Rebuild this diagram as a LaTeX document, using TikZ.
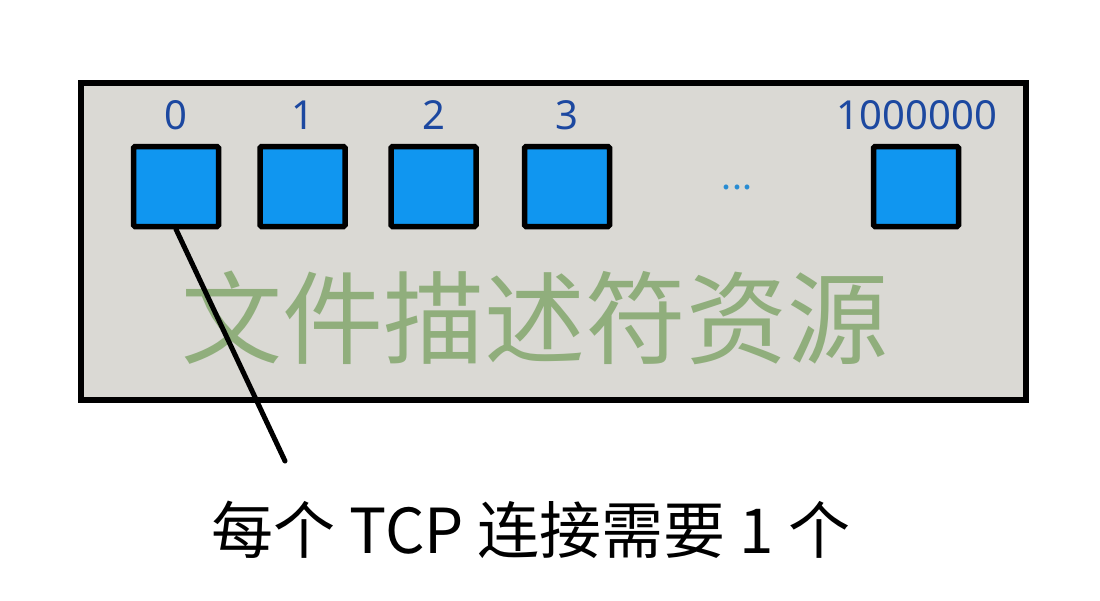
\documentclass[tikz,border=0pt]{standalone}
\usepackage{fontspec}
\newfontfamily\cjk{Noto Sans CJK SC}
\newfontfamily\lbl{Noto Sans}
\definecolor{bggray}{RGB}{218,217,212}
\definecolor{cellblue}{RGB}{16,150,240}
\definecolor{lblblue}{RGB}{28,72,160}
\definecolor{dotblue}{RGB}{40,140,210}
\definecolor{titlegreen}{RGB}{144,174,124}
\tikzset{
  cell/.style={draw=black, line width=5.5pt, fill=cellblue, rounded corners=1.5pt,
    minimum width=85pt, minimum height=80pt, inner sep=0pt},
  idx/.style={font=\lbl\fontsize{40}{40}\selectfont, text=lblblue, inner sep=0pt, anchor=base},
  panel/.style={draw=black, line width=6pt, fill=bggray},
  link/.style={draw=black, line width=5pt, line cap=round}
}
\begin{document}
\begin{tikzpicture}[x=1pt,y=-1pt]
\useasboundingbox (0,0) rectangle (1100,600);
\fill[white] (0,0) rectangle (1100,600);
\draw[panel] (81,83) rectangle (1026,400);
\node[cell] (c0) at (176,186.5) {};
\node[cell] (c1) at (302.5,186.5) {};
\node[cell] (c2) at (433.5,186.5) {};
\node[cell] (c3) at (567,186.5) {};
\node[cell] (cn) at (916,186.5) {};
\node[idx] (l0) at (176,129) {0};
\node[idx] (l1) at (302.5,129) {1};
\node[idx] (l2) at (433.5,129) {2};
\node[idx] (l3) at (567,129) {3};
\node[idx] (ln) at (917,129) {1000000};
\node[font=\cjk\fontsize{36}{36}\selectfont, text=dotblue, inner sep=0pt] (dots) at (737,187) {...};
\node[font=\cjk\fontsize{101}{101}\selectfont, text=titlegreen, inner sep=0pt] (title) at (535,318) {文件描述符资源};
\coordinate (lend) at (285,461);
\draw[link] (c0.south) -- (lend);
\node[font=\cjk\fontsize{62}{62}\selectfont, text=black, inner sep=0pt] (note) at (531,530) {每个 TCP 连接需要 1 个};
\end{tikzpicture}
\end{document}
